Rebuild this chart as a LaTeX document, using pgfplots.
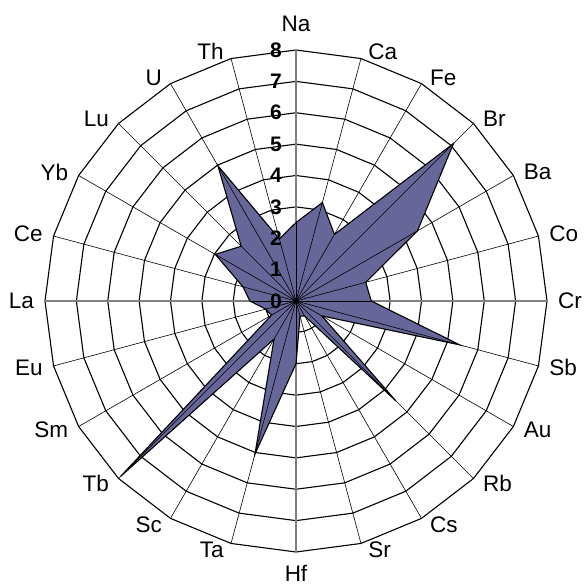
\documentclass[border=0pt]{standalone}
\usepackage{pgfplots}
\usepackage{pgfplotstable}
\pgfplotsset{compat=1.18}
\usepgfplotslibrary{polar}
\usepackage{fontspec}
\setmainfont{Liberation Sans}
\definecolor{fillc}{RGB}{102,102,153}
\definecolor{axgrey}{RGB}{128,128,128}

\pgfplotstableread{
a r
90 2.50
75 3.25
60 2.45
45 7.10
30 4.47
15 2.30
0 2.40
345 5.40
330 0.95
315 4.50
300 0.55
285 0.50
270 2.00
255 5.05
240 1.40
225 7.90
210 0.90
195 1.00
180 1.47
165 1.75
150 2.97
135 2.47
120 4.98
105 2.05
}\datatable

\begin{document}
\begin{tikzpicture}
\begin{polaraxis}[
  hide axis,
  scale only axis,
  width=502pt, height=502pt,
  xmin=0, xmax=360, ymin=0, ymax=8,
  clip=false,
]
% rings (24-gons)
\pgfplotsinvokeforeach{1,2,3,4,5,6,7,8}{
  \draw[black, line width=1.1pt, line join=miter]
    (axis cs:0,#1) \foreach \t in {15,30,...,345}{ -- (axis cs:\t,#1)} -- cycle;
}
\draw[axgrey, line width=1.1pt] (axis cs:0,8) -- (axis cs:180,8);
\draw[axgrey, line width=1.1pt] (axis cs:90,8) -- (axis cs:270,8);
% data polygon
\addplot[fill=fillc, draw=black, line width=1.1pt, line join=miter, no marks]
  table[x=a, y=r]{\datatable} -- cycle;
% spokes over fill
\pgfplotsinvokeforeach{15,30,45,60,75,105,120,135,150,165,195,210,225,240,255,285,300,315,330,345}{
  \draw[black, line width=0.6pt] (axis cs:0,0) -- (axis cs:#1,8);
}
\draw[black, line width=0.6pt] (axis cs:0,0) -- (axis cs:90,2.50);
\draw[black, line width=0.6pt] (axis cs:0,0) -- (axis cs:0,2.40);
\draw[black, line width=0.6pt] (axis cs:0,0) -- (axis cs:270,2.00);
\draw[black, line width=0.6pt] (axis cs:0,0) -- (axis cs:180,1.47);
\fill[black] (axis cs:0,0) circle[radius=2.2pt];
% named coordinates
\coordinate (c) at (axis cs:0,0);
\pgfplotsinvokeforeach{0,15,30,45,60,75,90,105,120,135,150,165,180,195,210,225,240,255,270,285,300,315,330,345}{
  \coordinate (p#1) at (axis cs:#1,8);
}
\pgfplotsinvokeforeach{0,1,2,3,4,5,6,7,8}{
  \coordinate (n#1) at (axis cs:90,#1);
}
\end{polaraxis}
% category labels
\begingroup
\fontsize{22.5pt}{26pt}\selectfont
\node[anchor=south, inner sep=0pt, yshift=18pt] at (p90) {Na};
\node[anchor=north, inner sep=0pt, yshift=-13pt] at (p270) {Hf};
\foreach \a/\n in {75/Ca,60/Fe,45/Br,30/Ba,15/Co,0/Cr,345/Sb,330/Au,315/Rb,300/Cs,285/Sr}{
  \pgfmathsetmacro\dx{6+5*abs(cos(\a))}
  \pgfmathsetmacro\dy{7*sin(\a)}
  \node[anchor=west, inner sep=0pt, xshift=\dx pt, yshift=\dy pt] at (p\a) {\n};
}
\foreach \a/\n in {255/Ta,240/Sc,225/Tb,210/Sm,195/Eu,180/La,165/Ce,150/Yb,135/Lu,120/U,105/Th}{
  \pgfmathsetmacro\dx{6+5*abs(cos(\a))}
  \pgfmathsetmacro\dy{7*sin(\a)}
  \node[anchor=east, inner sep=0pt, xshift=-\dx pt, yshift=\dy pt] at (p\a) {\n};
}
\endgroup
% value labels
\begingroup
\fontsize{21pt}{24pt}\selectfont\bfseries
\foreach \k in {0,1,2,3,4,5,6,7,8}{
  \node[anchor=east, inner sep=0pt, xshift=-14pt] at (n\k) {\k};
}
\endgroup
\pgfresetboundingbox
\path[use as bounding box] (c) ++(-296pt,301pt) rectangle ++(584pt,-588pt);
\end{tikzpicture}
\end{document}
